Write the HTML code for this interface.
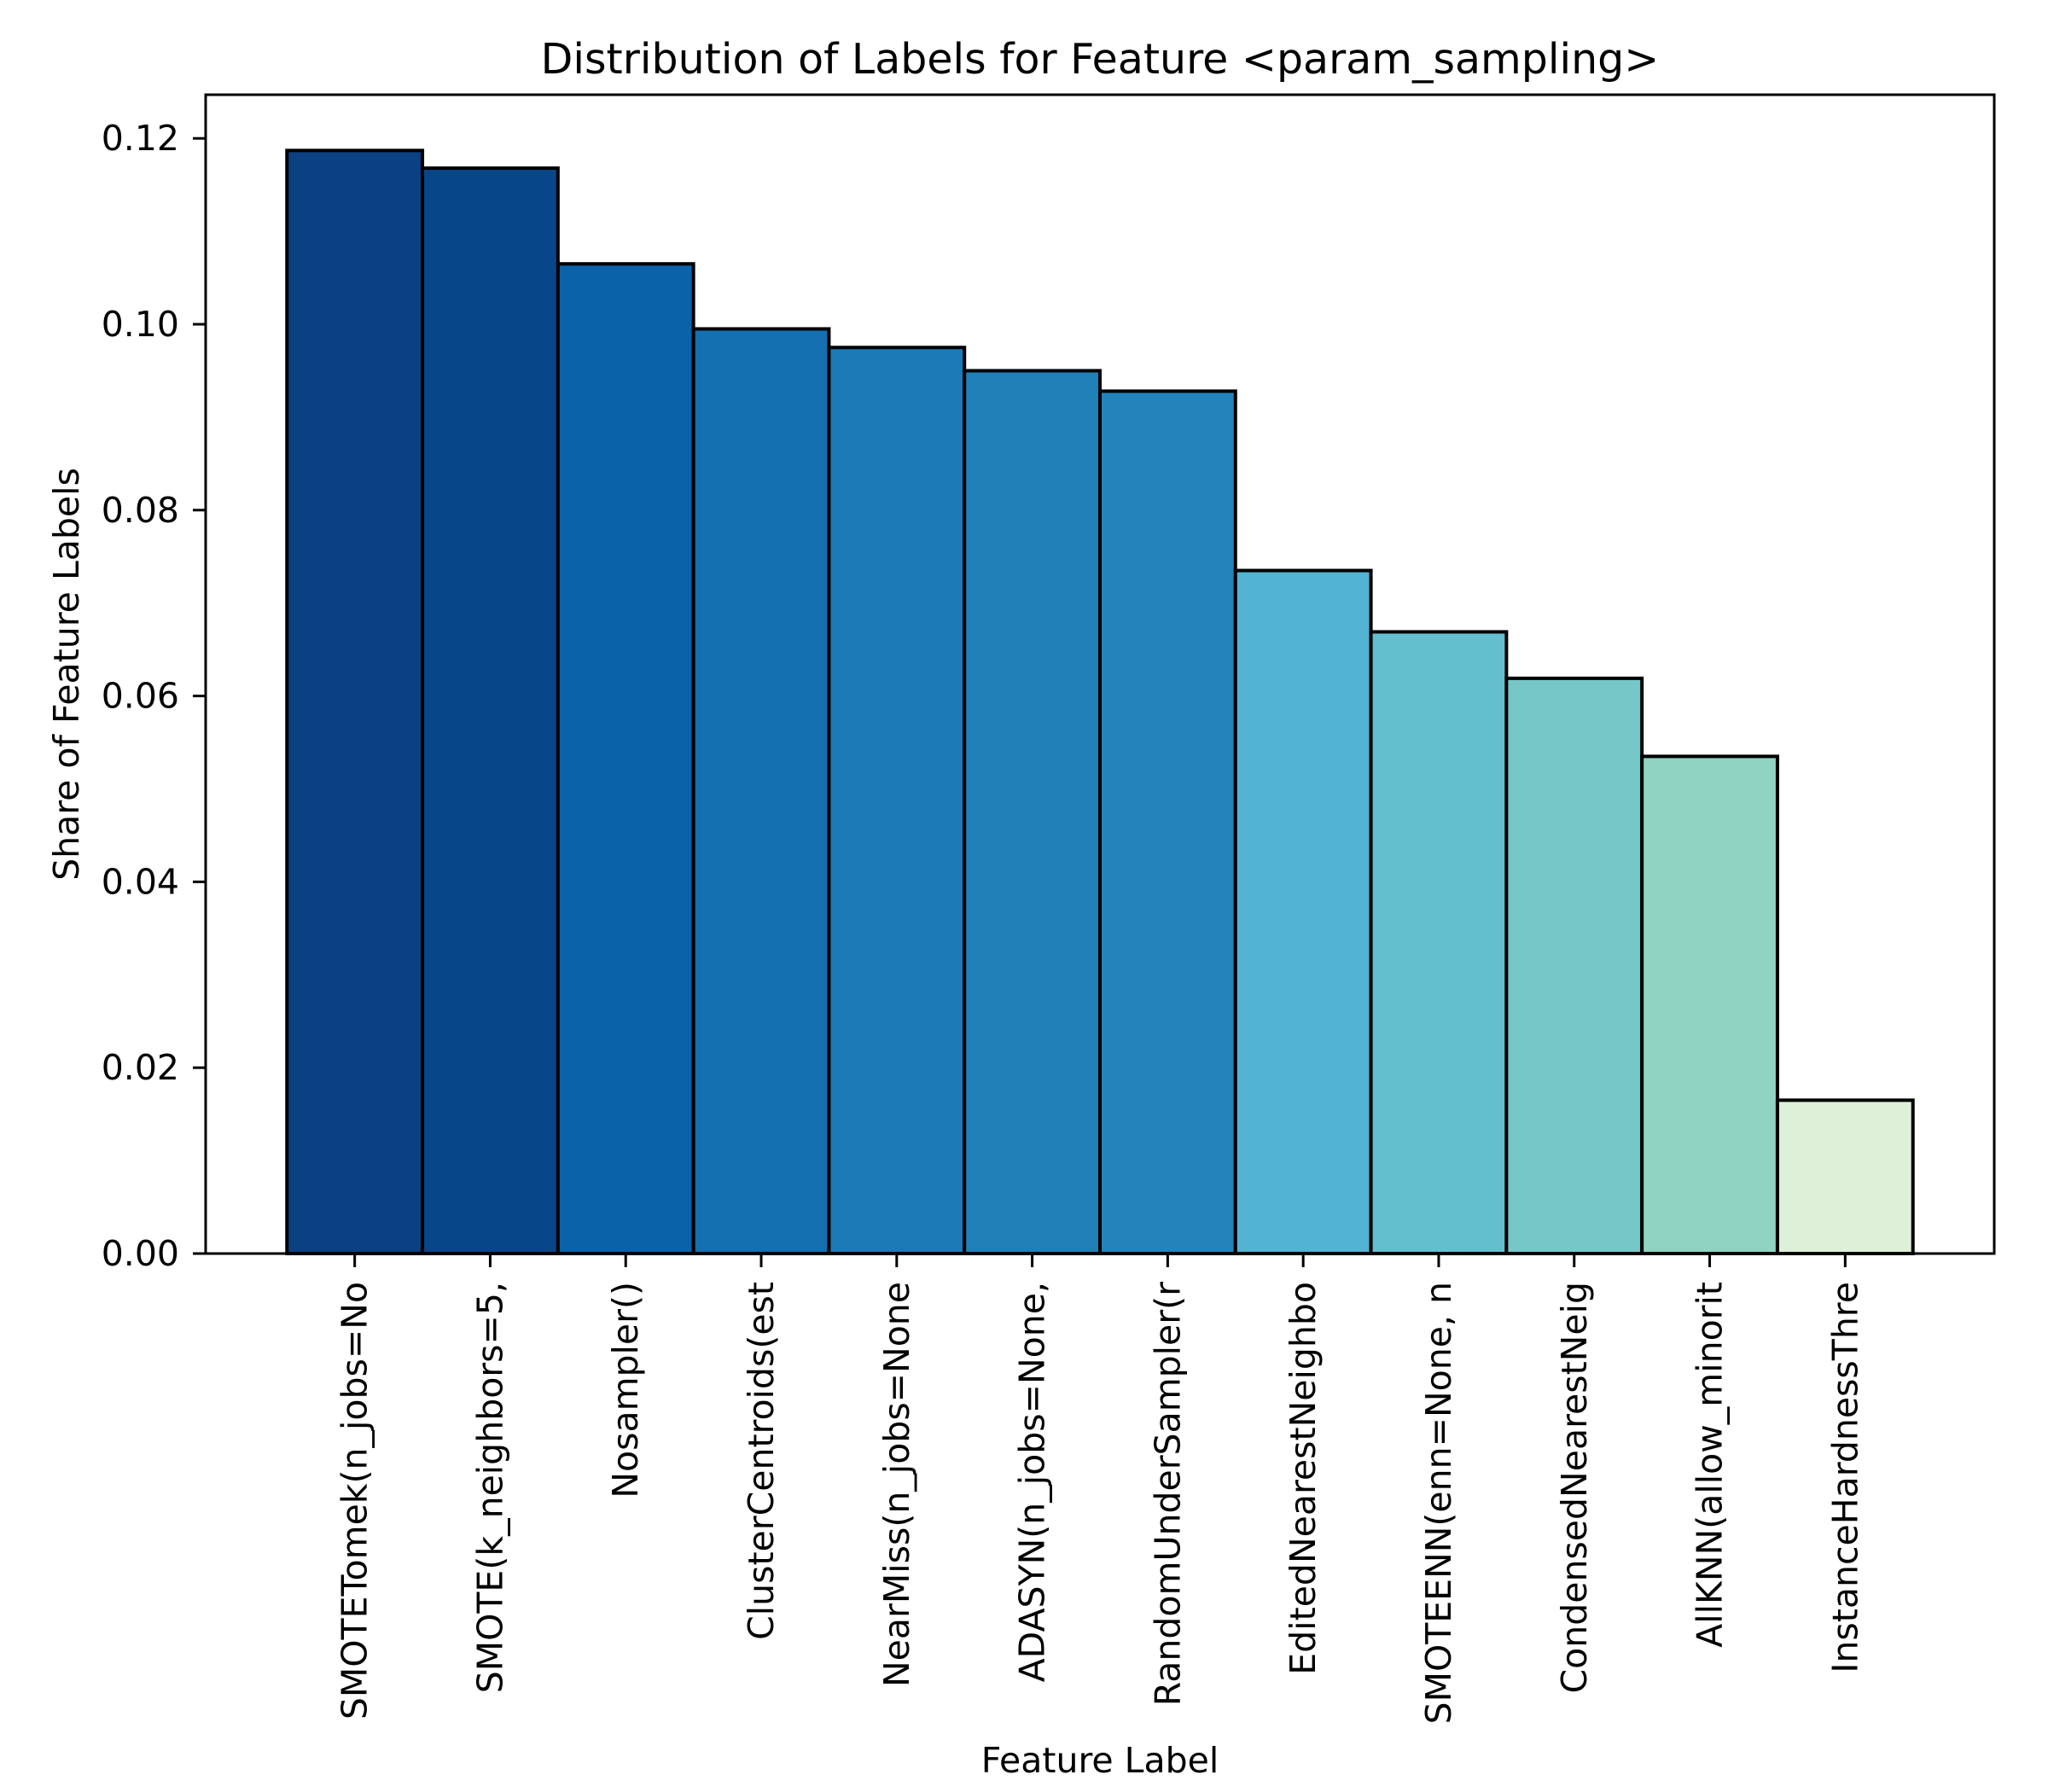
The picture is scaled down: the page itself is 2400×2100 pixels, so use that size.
<!DOCTYPE html>
<html><head><meta charset="utf-8"><style>
html,body{margin:0;padding:0;background:#fff}
svg{display:block;font-family:"DejaVu Sans","Liberation Sans",sans-serif}
</style></head><body>
<svg id="chart" width="2400" height="2100" viewBox="0 0 2400 2100" xmlns="http://www.w3.org/2000/svg">
<rect width="2400" height="2100" fill="#fff"/>
<text x="1289" y="86" font-size="49" text-anchor="middle">Distribution of Labels for Feature &lt;param_sampling&gt;</text>
<text transform="translate(78,790) rotate(-90)" font-size="41" text-anchor="middle" dominant-baseline="central">Share of Feature Labels</text>
<text x="1289" y="2077" font-size="41" text-anchor="middle">Feature Label</text>
<g id="bars"></g>
<g id="yticks"></g>
<g id="xticks"></g>
<rect x="241" y="111" width="2096" height="1358" fill="none" stroke="#000" stroke-width="3"/>
</svg>
<script>
const categories = ["SMOTETomek(n_jobs=No","SMOTE(k_neighbors=5,","Nosampler()","ClusterCentroids(est","NearMiss(n_jobs=None","ADASYN(n_jobs=None,","RandomUnderSampler(r","EditedNearestNeighbo","SMOTEENN(enn=None, n","CondensedNearestNeig","AllKNN(allow_minorit","InstanceHardnessThre"];
const values = [0.1187,0.1168,0.1065,0.0995,0.0975,0.0950,0.0928,0.0735,0.0669,0.0619,0.0535,0.0165];
const colors = ["#0b4083","#08468a","#0a62a9","#1470b0","#1c7ab6","#1f80b8","#2384bb","#52b3d3","#63bfcd","#76c7c7","#8fd3c0","#ddf0d8"];
const yTicks = [0,0.02,0.04,0.06,0.08,0.10,0.12];
const yTickLabels = ["0.00","0.02","0.04","0.06","0.08","0.10","0.12"];

const NS="http://www.w3.org/2000/svg";
const X0=241,X1=2337,Y0=111,Y1=1469;
const xmin=-1.1,xmax=categories.length+0.1;
const ymax=0.1247;
function xs(v){return X0+(v-xmin)/(xmax-xmin)*(X1-X0);}
function ys(v){return Y1-v/ymax*(Y1-Y0);}
function mk(tag,attrs,parent){const e=document.createElementNS(NS,tag);for(const k in attrs)e.setAttribute(k,attrs[k]);parent.appendChild(e);return e;}
const gb=document.getElementById('bars'),gy=document.getElementById('yticks'),gx=document.getElementById('xticks');
values.forEach((v,i)=>{
  const r=mk('rect',{x:xs(i-0.5),y:ys(v),width:xs(i+0.5)-xs(i-0.5),height:ys(0)-ys(v),fill:colors[i],stroke:'#000','stroke-width':4},gb);
  
  
});
yTicks.forEach((t,i)=>{
  const y=ys(t);
  const l=mk('line',{x1:226,x2:241,y1:y,y2:y,stroke:'#000','stroke-width':3},gy);
  
  
  const tx=mk('text',{x:210,y:y,'font-size':41,'text-anchor':'end','dominant-baseline':'central'},gy);
  tx.textContent=yTickLabels[i];
  
  
});
categories.forEach((c,i)=>{
  const x=xs(i);
  const l=mk('line',{x1:x,x2:x,y1:1469,y2:1485,stroke:'#000','stroke-width':3},gx);
  
  
  const tx=mk('text',{transform:'translate('+x+',1502) rotate(-90)','font-size':41,'text-anchor':'end','dominant-baseline':'central'},gx);
  tx.textContent=c;
  
  
});
</script>
</body></html>
